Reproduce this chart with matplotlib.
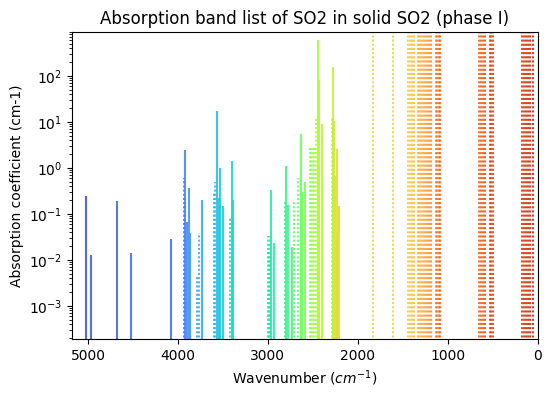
import numpy as np
from matplotlib import pyplot as plt

# band positions (cm-1), absorption coefficients (cm-1), and whether the value is tentative (dotted)
wavenumber = [5024, 4968, 4679, 4524, 4080,
              3935, 3921, 3917, 3899, 3873, 3862,
              3784, 3769, 3735,
              3599, 3584, 3565, 3547, 3535, 3502,
              3421, 3402, 3384,
              2999, 2988, 2977, 2962, 2936,
              2807, 2796, 2777, 2732, 2710, 2666, 2636, 2618, 2591,
              2532, 2516, 2499, 2488, 2466, 2447, 2429, 2399,
              2291, 2280, 2266, 2255, 2236, 2229, 2207,
              1829, 1607,
              1444, 1422, 1400, 1372, 1333, 1316, 1300, 1277, 1255, 1233, 1211, 1183,
              1133, 1116, 1100, 1088,
              655, 633, 611, 589, 533, 516, 500,
              170, 150, 128, 106, 83, 56]
absorption = [0.24, 0.013, 0.19, 0.014, 0.029,
              0.6, 0.23, 2.4, 0.068, 0.37, 0.039,
              0.0047, 0.039, 0.2,
              0.3, 0.5, 17, 0.22, 0.97, 0.15,
              0.086, 1.4, 0.2,
              0.033, 0.015, 0.033, 0.33, 0.023,
              0.2, 1.1, 0.155, 0.019, 0.2, 0.59, 5.4, 0.3, 0.5,
              3.0, 2.9, 3.0, 2.8, 13, 600, 80, 9.2,
              13, 158, 10.5, 0.65, 0.039, 2.6, 0.15,
              2e3, 1e3,
              3e3, 2e3, 5e3, 2e3, 1e4, 3e4, 1e4, 5e3, 3e3, 5e3, 2e3, 3e3,
              1e4, 3e4, 1e4, 2e3,
              2e3, 3e3, 5e3, 3e3, 1e4, 2e4, 5e3,
              2e3, 3e3, 5e3, 3e3, 2e3, 2e3]
dotted = [0, 0, 0, 0, 0,
          1, 1, 0, 0, 0, 0,
          1, 1, 0,
          1, 1, 0, 0, 0, 0,
          1, 0, 0,
          1, 1, 1, 0, 0,
          1, 0, 0, 0, 1, 1, 0, 0, 0,
          1, 1, 1, 1, 1, 0, 0, 0,
          1, 0, 0, 0, 0, 0, 0,
          1, 1,
          1, 1, 1, 1, 1, 1, 1, 1, 1, 1, 1, 1,
          1, 1, 1, 1,
          1, 1, 1, 1, 1, 1, 1,
          1, 1, 1, 1, 1, 1]

fig = plt.figure(figsize=(5.51, 3.99), dpi=100)
ax = fig.add_subplot(111)
fig.subplots_adjust(left=0.131, right=0.976, top=0.92, bottom=0.15)

n = len(wavenumber)
colors = plt.cm.turbo(np.linspace(0.1, 0.91, n))
for i in range(n):
    if dotted[i]:
        ax.vlines(wavenumber[i], 1e-6, absorption[i], colors=[colors[i]],
                  linestyles=(0, (1, 1)), linewidth=1.5, alpha=0.85)
    else:
        ax.vlines(wavenumber[i], 1e-6, absorption[i], colors=[colors[i]],
                  linestyles='-', linewidth=1.5, alpha=0.9)

ax.set_yscale('log')
ax.set_xlim(5176, 0)
ax.set_ylim(1.9e-4, 900)
ax.set_title("Absorption band list of SO2 in solid SO2 (phase I)")
ax.set_xlabel("Wavenumber ($cm^{-1}$)")
ax.set_ylabel("Absorption coefficient (cm-1)")
plt.savefig("out.png", dpi=100)
